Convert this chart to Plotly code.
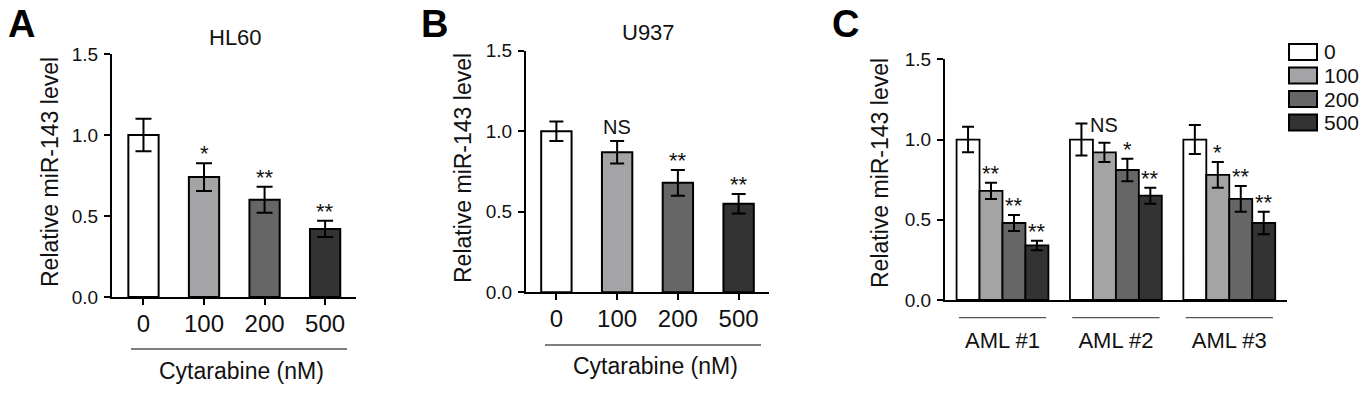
import plotly.graph_objects as go

# ---------------- data ----------------
doses = ["0", "100", "200", "500"]
dose_colors = ["#ffffff", "#a4a4a6", "#666666", "#333333"]

hl60_vals = [1.00, 0.74, 0.60, 0.42]
hl60_err = [0.10, 0.085, 0.08, 0.05]
hl60_sig = ["", "*", "**", "**"]

u937_vals = [1.00, 0.87, 0.68, 0.55]
u937_err = [0.06, 0.07, 0.08, 0.06]
u937_sig = ["", "NS", "**", "**"]

aml_groups = ["AML #1", "AML #2", "AML #3"]
aml_vals = {
    "0":   [1.00, 1.00, 1.00],
    "100": [0.68, 0.92, 0.78],
    "200": [0.48, 0.81, 0.63],
    "500": [0.34, 0.65, 0.48],
}
aml_err = {
    "0":   [0.08, 0.10, 0.09],
    "100": [0.05, 0.06, 0.08],
    "200": [0.05, 0.07, 0.08],
    "500": [0.03, 0.05, 0.07],
}
aml_sig = {
    "0":   ["", "", ""],
    "100": ["**", "NS", "*"],
    "200": ["**", "*", "**"],
    "500": ["**", "**", "**"],
}

y_ticks = [0.0, 0.5, 1.0, 1.5]
y_title = "Relative miR-143 level"
x_title = "Cytarabine (nM)"

# ---------------- layout helpers ----------------
W, H = 1367, 394
FONT = "Arial, Liberation Sans, sans-serif"


def px(x):
    return x / W


def py(y):
    return 1 - y / H


fig = go.Figure()

# Panel A
fig.add_trace(go.Bar(
    x=doses, y=hl60_vals, width=0.5,
    marker=dict(color=dose_colors, line=dict(color="black", width=2)),
    error_y=dict(type="data", array=hl60_err, thickness=2, width=8, color="black"),
    xaxis="x", yaxis="y", showlegend=False,
))
# Panel B
fig.add_trace(go.Bar(
    x=doses, y=u937_vals, width=0.5,
    marker=dict(color=dose_colors, line=dict(color="black", width=2)),
    error_y=dict(type="data", array=u937_err, thickness=2, width=7, color="black"),
    xaxis="x2", yaxis="y2", showlegend=False,
))
# Panel C
for d, c in zip(doses, dose_colors):
    fig.add_trace(go.Bar(
        x=aml_groups, y=aml_vals[d], name=d,
        marker=dict(color=c, line=dict(color="black", width=1.8)),
        error_y=dict(type="data", array=aml_err[d], thickness=2, width=6, color="black"),
        xaxis="x3", yaxis="y3", showlegend=False,
    ))

bargap_c = 0.19

axis_common = dict(showline=True, linecolor="black", linewidth=2, showgrid=False,
                   zeroline=False, ticks="outside", tickcolor="black", tickwidth=2,
                   ticklen=6, automargin=False)

ycommon = dict(axis_common, range=[0, 1.5], tickvals=y_ticks, tickformat=".1f",
               tickfont=dict(family=FONT, size=19, color="#111"), ticklabelstandoff=2)

fig.update_layout(
    width=W, height=H, margin=dict(l=0, r=0, t=0, b=0, autoexpand=False),
    paper_bgcolor="white", plot_bgcolor="white",
    barmode="group", bargap=bargap_c, bargroupgap=0,
    font=dict(family=FONT, color="#111"),
    xaxis=dict(axis_common, domain=[px(112), px(356)], range=[-0.52, 3.51],
               anchor="y", type="category",
               tickfont=dict(family=FONT, size=24, color="#111"), ticklabelstandoff=-2),
    yaxis=dict(ycommon, domain=[py(297), py(54)], anchor="x"),
    xaxis2=dict(axis_common, domain=[px(526), px(769)], range=[-0.50, 3.50],
                anchor="y2", type="category",
                tickfont=dict(family=FONT, size=24, color="#111"), ticklabelstandoff=-2),
    yaxis2=dict(ycommon, domain=[py(292.3), py(50.7)], anchor="x2"),
    xaxis3=dict(axis_common, domain=[px(945), px(1287)], range=[-0.507, 2.509],
                anchor="y3", type="category", ticks="",
                tickfont=dict(family=FONT, size=22, color="#111"), ticklabelstandoff=20),
    yaxis3=dict(ycommon, domain=[py(300), py(59.3)], anchor="x3"),
)

annotations = []
shapes = []

# significance marks A and B
for xa, ya, vals, errs, sigs in [("x", "y", hl60_vals, hl60_err, hl60_sig),
                                 ("x2", "y2", u937_vals, u937_err, u937_sig)]:
    for i, (v, e, s) in enumerate(zip(vals, errs, sigs)):
        if not s:
            continue
        is_star = s.startswith("*")
        annotations.append(dict(
            x=i, y=v + e, xref=xa, yref=ya, text=s, showarrow=False,
            yanchor="bottom", yshift=-5 if is_star else 1,
            font=dict(family=FONT, size=22 if is_star else 20, color="#111")))

# significance marks C
bw = (1 - bargap_c) / len(doses)
for j, d in enumerate(doses):
    for i in range(len(aml_groups)):
        s = aml_sig[d][i]
        if not s:
            continue
        is_star = s.startswith("*")
        annotations.append(dict(
            x=i + (j - (len(doses) - 1) / 2) * bw, y=aml_vals[d][i] + aml_err[d][i],
            xref="x3", yref="y3", text=s, showarrow=False,
            yanchor="bottom", yshift=-5 if is_star else 5,
            font=dict(family=FONT, size=22 if is_star else 20, color="#111")))

# panel letters
for letter, lx in [("A", 21), ("B", 434), ("C", 845)]:
    annotations.append(dict(x=px(lx), y=py(24), xref="paper", yref="paper", text=f"<b>{letter}</b>",
                            showarrow=False, xanchor="center", yanchor="middle",
                            font=dict(family=FONT, size=38, color="black")))

# panel titles
annotations.append(dict(x=px(235), y=py(37), xref="paper", yref="paper", text="HL60", showarrow=False,
                        xanchor="center", yanchor="middle", font=dict(family=FONT, size=22, color="#111")))
annotations.append(dict(x=px(648), y=py(32), xref="paper", yref="paper", text="U937", showarrow=False,
                        xanchor="center", yanchor="middle", font=dict(family=FONT, size=22, color="#111")))

# y titles
for tx, ty in [(50, 172), (463, 168), (880, 173)]:
    annotations.append(dict(x=px(tx), y=py(ty), xref="paper", yref="paper", text=y_title, showarrow=False,
                            textangle=-90, xanchor="center", yanchor="middle",
                            font=dict(family=FONT, size=23, color="#111")))

# x titles and underlines for A, B
for (x0, x1, ly, tx, ty) in [(131, 347, 349, 242, 371), (545, 761, 345, 655, 366)]:
    shapes.append(dict(type="line", xref="paper", yref="paper", x0=px(x0), x1=px(x1), y0=py(ly), y1=py(ly),
                       line=dict(color="#555", width=1.3)))
    annotations.append(dict(x=px(tx), y=py(ty), xref="paper", yref="paper", text=x_title, showarrow=False,
                            xanchor="center", yanchor="middle", font=dict(family=FONT, size=23, color="#111")))

# group underlines for C
for i in range(len(aml_groups)):
    shapes.append(dict(type="line", xref="x3", yref="paper", x0=i - 0.385, x1=i + 0.385,
                       y0=py(317.7), y1=py(317.7), line=dict(color="#555", width=1.3)))

# legend for C
box_tops = [44, 67.5, 91, 114.5]
for d, c, top in zip(doses, dose_colors, box_tops):
    shapes.append(dict(type="rect", xref="paper", yref="paper", x0=px(1289), x1=px(1317),
                       y0=py(top + 16), y1=py(top), fillcolor=c, line=dict(color="black", width=2)))
    annotations.append(dict(x=px(1322), y=py(top + 8), xref="paper", yref="paper", text=d, showarrow=False,
                            xanchor="left", yanchor="middle", font=dict(family=FONT, size=21, color="#111")))

fig.update_layout(annotations=annotations, shapes=shapes)
fig.write_html("out.html", config={"displayModeBar": False},
               post_script="document.body.style.margin='0';document.body.style.overflow='hidden';")
